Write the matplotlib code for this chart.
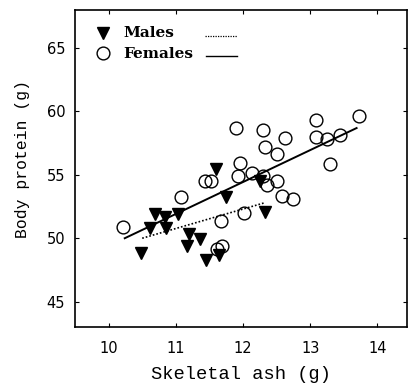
import matplotlib
matplotlib.use('Agg')
import matplotlib.pyplot as plt
import numpy as np

# Skeletal ash (g) vs body protein (g)
male_ash = [11.60, 11.74, 12.26, 12.33, 10.69, 10.84, 11.03, 10.61, 10.86,
            11.19, 11.36, 11.16, 10.48, 11.45, 11.65]
male_protein = [55.45, 53.29, 54.55, 52.10, 51.92, 51.71, 51.90, 50.79, 50.79,
                50.34, 49.92, 49.40, 48.87, 48.29, 48.69]

female_ash = [13.73, 13.08, 11.89, 12.30, 12.62, 13.09, 13.25, 13.44, 12.33,
              12.51, 13.30, 11.95, 11.93, 12.14, 12.30, 12.50, 12.35, 11.44,
              11.53, 11.07, 12.58, 12.75, 10.22, 11.67, 12.02, 11.61, 11.69]
female_protein = [59.65, 59.29, 58.73, 58.55, 57.87, 57.97, 57.82, 58.16, 57.19,
                  56.66, 55.87, 55.97, 54.92, 55.18, 54.87, 54.55, 54.19, 54.53,
                  54.53, 53.25, 53.34, 53.08, 50.87, 51.37, 51.98, 49.16, 49.40]

# regression line end points
male_fit_x = [10.50, 12.33]
male_fit_y = [50.0, 52.81]
female_fit_x = [10.24, 13.69]
female_fit_y = [50.0, 58.69]

xticks = [10, 11, 12, 13, 14]
yticks = [45, 50, 55, 60, 65]

serif = 'DejaVu Serif'
mono = 'Liberation Mono'

fig = plt.figure(figsize=(4.08, 3.91), dpi=100)
ax = fig.add_axes([75/408., 1 - 327/391., 332/408., 317/391.])

ax.plot(female_fit_x, female_fit_y, color='k', lw=1.4, ls='-')
ax.plot(male_fit_x, male_fit_y, color='k', lw=1.2, ls=(0, (1, 1.2)))

ax.plot(female_ash, female_protein, ls='none', marker='o', ms=9.2,
        mfc='none', mec='k', mew=1.0)
ax.plot(male_ash, male_protein, ls='none', marker='v', ms=8.5,
        mfc='k', mec='k')

# legend drawn by hand: marker, label, line sample
ax.plot([0.084], [0.927], transform=ax.transAxes, ls='none', marker='v',
        ms=8.5, mfc='k', mec='k')
ax.plot([0.084], [0.864], transform=ax.transAxes, ls='none', marker='o',
        ms=9.2, mfc='none', mec='k', mew=1.0)
ax.text(0.145, 0.927, 'Males', transform=ax.transAxes, va='center',
        ha='left', family=serif, fontweight='bold', fontsize=11)
ax.text(0.145, 0.862, 'Females', transform=ax.transAxes, va='center',
        ha='left', family=serif, fontweight='bold', fontsize=11)
ax.plot([0.392, 0.488], [0.918, 0.918], transform=ax.transAxes, color='k',
        lw=0.9, ls=(0, (1, 1)))
ax.plot([0.395, 0.488], [0.855, 0.855], transform=ax.transAxes, color='k',
        lw=1.0)

ax.set_xlim(9.5, 14.44)
ax.set_ylim(43.0, 68.0)
ax.set_xticks(xticks)
ax.set_yticks(yticks)
ax.tick_params(direction='in', length=3, width=0.8, top=True, right=True,
               labelsize=10.5)
ax.tick_params(axis='x', pad=10)
ax.tick_params(axis='y', pad=7)
for s in ax.spines.values():
    s.set_linewidth(1.2)

ax.set_xlabel('Skeletal ash (g)', family=mono, fontsize=13.5, labelpad=7)
ax.set_ylabel('Body protein (g)', family=mono, fontsize=11.8)
ax.yaxis.set_label_coords(-0.137, 0.531)

fig.savefig('out.png', dpi=100)
